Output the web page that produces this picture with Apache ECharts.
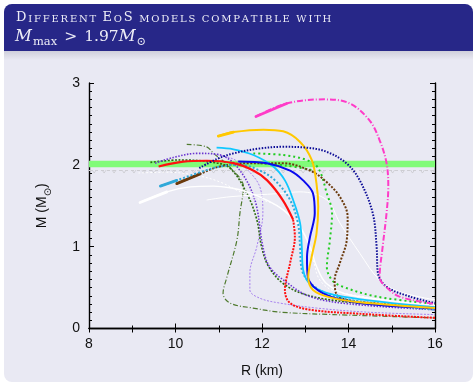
<!DOCTYPE html>
<html><head><meta charset="utf-8">
<script src="https://cdn.jsdelivr.net/npm/echarts@6/dist/echarts.min.js"></script>
<style>html,body{margin:0;padding:0;background:#fff;}#c{width:475px;height:384px;}</style>
</head><body><div id="c"></div>
<script>
// ---- text / axis / band values ----
const titleLine1 = 'Different EoS models compatible with';
const xTicks = [8, 10, 12, 14, 16];
const yTicks = [0, 1, 2, 3];
const bandLow = 1.97, bandHigh = 2.05, limitLine = 1.93;
const limitMarkR = [8.12,8.35,8.58,8.81,9.04,9.27,9.50,9.73,9.96,10.19,10.42,10.65,10.88,11.11,11.34,11.57,11.80,12.03,12.26,12.49,12.72,12.95,13.18,13.41,13.64,13.87,14.10,14.33,14.56,14.79,15.02,15.25,15.48,15.71,15.94];

// ---- EoS curves (R in km, M in Msun) ----
const magentaR = [11.86,12.57,13.45,14.03,14.49,14.72,14.88,14.92,14.88,14.79,14.72,14.95,15.18,15.65,16.0];
const magentaM = [2.59,2.75,2.80,2.75,2.54,2.30,2.02,1.73,1.41,1.00,0.63,0.47,0.39,0.33,0.30];
const navyR = [10.55,10.95,11.34,11.95,12.49,13.03,13.49,13.95,14.26,14.56,14.65,14.68,14.88,15.42,16.0];
const navyM = [1.96,2.07,2.14,2.20,2.22,2.21,2.16,2.02,1.81,1.41,1.00,0.68,0.51,0.39,0.31];
const yellowR = [10.99,11.34,12.03,12.49,12.88,13.15,13.26,13.30,13.26,13.15,13.07,13.18,13.57,14.26,16.0];
const yellowM = [2.35,2.40,2.43,2.41,2.28,2.06,1.77,1.49,1.16,0.88,0.63,0.47,0.38,0.32,0.25];
const blueR = [11.45,12.11,12.65,12.95,13.18,13.22,13.11,13.04,13.06,13.41,14.26,16.0];
const blueM = [2.04,2.02,1.93,1.81,1.65,1.41,1.12,0.87,0.63,0.43,0.31,0.25];
const cyanR = [10.95,11.34,11.80,12.26,12.53,12.72,12.88,12.92,12.95,13.18,13.87,16.0];
const cyanM = [2.21,2.19,2.12,1.98,1.81,1.57,1.29,1.00,0.72,0.51,0.39,0.26];
const redR = [9.61,10.18,10.72,11.34,11.80,12.12,12.48,12.72];
const redM = [1.98,2.04,2.05,2.02,1.93,1.81,1.57,1.33];
const redLowR = [12.72,12.76,12.65,12.53,12.65,13.11,14.26,16.0];
const redLowM = [1.33,1.12,0.80,0.47,0.31,0.23,0.18,0.13];
const skyDotR = [9.65,10.03,10.57,11.03,11.49,11.95,12.30,12.65,12.83,12.88,12.92,13.11,13.49,14.26,16.0];
const skyDotM = [1.74,1.81,1.91,1.98,2.00,1.93,1.81,1.57,1.29,1.00,0.72,0.56,0.43,0.33,0.23];
const brownR = [10.03,10.57,11.03,11.72,12.49,13.11,13.45,13.80,13.98,13.96,13.80,13.68,13.73,13.96,14.80,16.0];
const brownM = [1.77,1.89,1.98,2.02,2.02,1.93,1.81,1.61,1.36,1.08,0.80,0.59,0.41,0.35,0.30,0.25];
const greenR = [11.80,12.49,13.03,13.30,13.50,13.62,13.57,13.50,13.62,13.87,14.65,16.0];
const greenM = [2.14,2.12,2.06,1.96,1.65,1.41,1.08,0.75,0.59,0.51,0.39,0.30];
const green2R = [11.95,12.57,13.22];
const green2M = [2.02,1.99,1.93];
const white1R = [9.18,9.80,10.34,10.88,11.26,11.65,12.11,12.49,12.88,13.11,13.26,13.49,14.03,16.0];
const white1M = [1.54,1.67,1.73,1.74,1.72,1.67,1.57,1.45,1.24,1.00,0.76,0.55,0.41,0.29];
const white2R = [10.72,11.26,12.42,12.88,13.50,13.80,14.26,14.72,15.18,16.0];
const white2M = [1.57,1.61,1.65,1.67,1.57,1.29,0.92,0.59,0.45,0.35];
const whiteDotR = [9.14,9.80,10.49,11.03,11.65,12.42,12.95,13.18,13.34,13.72,16.0];
const whiteDotM = [1.90,1.91,1.87,1.79,1.63,1.48,1.17,0.84,0.59,0.45,0.28];
const purpleR = [9.53,9.95,10.50,10.96,11.26,11.49,11.72,11.88,12.02,12.18,12.58,13.11,14.03,16.0];
const purpleM = [2.02,2.09,2.14,2.13,2.06,1.93,1.73,1.48,1.00,0.75,0.56,0.39,0.30,0.23];
const dkGreenR = [9.42,10.11,10.87,11.26,11.65,11.88,11.99,12.15,12.49,13.03,14.03,16.0];
const dkGreenM = [2.03,2.06,2.03,1.96,1.65,1.33,1.00,0.76,0.55,0.41,0.32,0.24];
const oliveR = [10.26,10.72,10.88,11.26,11.57,11.49,11.42,11.19,11.10,11.26,11.79,12.42,13.65,16.0];
const oliveM = [2.25,2.22,2.14,1.97,1.73,1.41,1.08,0.63,0.43,0.31,0.25,0.20,0.17,0.13];
const lilacR = [10.88,11.34,11.68,11.95,12.02,11.88,11.72,11.72,11.95,12.42,13.26,14.42,16.0];
const lilacM = [2.13,2.07,1.93,1.73,1.41,1.00,0.68,0.47,0.37,0.31,0.25,0.20,0.17];

const curves = [
  {R: oliveR, M: oliveM, color: '#4f7a2e', width: 1.2, type: [5,2,1,2]},
  {R: lilacR, M: lilacM, color: '#a680ee', width: 1, type: [2,1.5]},
  {R: dkGreenR, M: dkGreenM, color: '#2d6a10', width: 1.6, type: [2,1.5]},
  {R: purpleR, M: purpleM, color: '#6a35d0', width: 1.6, type: [1.5,1.5]},
  {R: whiteDotR, M: whiteDotM, color: '#ffffff', width: 1, type: [2,2]},
  {R: white2R, M: white2M, color: '#ffffff', width: 1, type: 'solid'},
  {R: white1R, M: white1M, color: '#ffffff', width: 1.4, type: 'solid', thick: true},
  {R: green2R, M: green2M, color: '#22cc22', width: 2, type: [2,3]},
  {R: greenR, M: greenM, color: '#22cc22', width: 2, type: [2,3]},
  {R: brownR, M: brownM, color: '#6b3a0c', width: 2, type: [2,1.5], thick: true},
  {R: skyDotR, M: skyDotM, color: '#30a8d8', width: 2, type: [2,2], thick: true},
  {R: redLowR, M: redLowM, color: '#ff1010', width: 2, type: [2,1.2]},
  {R: redR, M: redM, color: '#ff1010', width: 2.2, type: 'solid'},
  {R: cyanR, M: cyanM, color: '#10c8ff', width: 1.8, type: 'solid'},
  {R: blueR, M: blueM, color: '#0a0aee', width: 2, type: 'solid'},
  {R: yellowR, M: yellowM, color: '#ffc800', width: 2, type: 'solid', thick: true},
  {R: navyR, M: navyM, color: '#0b0b96', width: 2, type: [1.5,1.5]},
  {R: magentaR, M: magentaM, color: '#ff3cc8', width: 2, type: [6,2,1,2], thick: true}
];

const series = [{
  type: 'line', data: [], z: 1, silent: true,
  markArea: {silent: true, itemStyle: {color: '#80fb78'}, data: [[{yAxis: bandLow}, {yAxis: bandHigh}]]},
  markLine: {silent: true, symbol: 'none', label: {show: false},
    lineStyle: {color: '#cdcdd2', type: [3,3], width: 1}, data: [{yAxis: limitLine}]}
}, {
  type: 'scatter', z: 2, silent: true,
  data: limitMarkR.map(r => [r, limitLine]),
  symbol: 'path://M0,0 L2,3 L4,0', symbolSize: [4, 3], symbolOffset: [0, 1],
  itemStyle: {color: 'rgba(0,0,0,0)', borderColor: '#c2c2c6', borderWidth: 0.8}
}];
curves.forEach((c, i) => {
  const pts = c.R.map((r, j) => [r, c.M[j]]);
  series.push({
    type: 'line', smooth: 0.35, showSymbol: false, z: 3 + i, silent: true,
    data: pts, lineStyle: {color: c.color, width: c.width, type: c.type}
  });
  if (c.thick) {
    // the first piece of the curve is drawn thicker in the source
    series.push({
      type: 'line', showSymbol: false, z: 3 + i, silent: true,
      data: pts.slice(0, 2), lineStyle: {color: c.color, width: 2.8, type: 'solid', cap: 'round'}
    });
  }
});

// small-caps title: capitals large, lower-case letters as small capitals
const smallCaps = titleLine1.split('').map(ch => {
  if (ch === ' ') return '{sp| }';
  const isUpper = ch === ch.toUpperCase();
  return (isUpper ? '{b|' : '{s|') + ch.toUpperCase() + '}';
}).join('');

const chart = echarts.init(document.getElementById('c'));
const axisLine = {show: true, lineStyle: {color: '#000', width: 1.4}};
const titleColor = '#ececf6';
const tf = {fontFamily: 'DejaVu Serif', fontWeight: 'normal', color: titleColor, lineHeight: 14, verticalAlign: 'bottom'};
chart.setOption({
  animation: false,
  backgroundColor: 'transparent',
  graphic: [
    {type: 'rect', z: -10, shape: {x: 4, y: 4, width: 469, height: 378, r: 8}, style: {fill: '#e9e9f3'}},
    {type: 'rect', z: -9, shape: {x: 4, y: 51, width: 469, height: 9},
      style: {fill: new echarts.graphic.LinearGradient(0, 0, 0, 1, [{offset: 0, color: '#cfcfdb'}, {offset: 1, color: '#e9e9f3'}])}},
    {type: 'rect', z: -8, shape: {x: 4, y: 4, width: 469, height: 47, r: [8, 8, 0, 0]}, style: {fill: '#272788'}}
  ],
  title: [{
    text: smallCaps,
    left: 16, top: 10, padding: 0,
    textStyle: {fontWeight: 'normal', rich: {
      b: Object.assign({}, tf, {fontSize: 13, padding: [0, 1.8, 0, 0]}),
      s: Object.assign({}, tf, {fontSize: 10, padding: [0, 1.8, 0, 0]}),
      sp: Object.assign({}, tf, {fontSize: 10, padding: [0, 1.4, 0, 0]})
    }}
  }, {
    text: '{m|M}{sub|max}{op|>}{n|1.97}{m|M}{sub|⊙}',
    left: 15, top: 26, padding: 0,
    textStyle: {fontWeight: 'normal', rich: {
      m: Object.assign({}, tf, {fontStyle: 'italic', fontSize: 16.5, lineHeight: 19}),
      n: Object.assign({}, tf, {fontSize: 15.5, lineHeight: 19}),
      op: Object.assign({}, tf, {fontSize: 15.5, lineHeight: 19, padding: [0, 7, 0, 7]}),
      sub: Object.assign({}, tf, {fontSize: 11.5, lineHeight: 12, padding: [0, 0, -3, 1]})
    }}
  }],
  grid: {left: 89, right: 40, top: 83, bottom: 55.5, containLabel: false},
  xAxis: [{
    type: 'value', min: xTicks[0], max: xTicks[xTicks.length - 1], interval: 2, position: 'bottom',
    axisLine: axisLine, splitLine: {show: false},
    axisTick: {inside: true, length: 5, lineStyle: {color: '#000', width: 1}},
    minorTick: {show: true, splitNumber: 2, length: 3, lineStyle: {color: '#000', width: 1}},
    axisLabel: {color: '#111', fontFamily: 'Liberation Sans', fontSize: 14, margin: 9},
    name: 'R (km)', nameLocation: 'middle', nameGap: 36,
    nameTextStyle: {color: '#111', fontFamily: 'Liberation Sans', fontSize: 14}
  }, {
    type: 'value', min: 8, max: 16, interval: 1, position: 'top',
    axisLine: axisLine, splitLine: {show: false},
    axisTick: {inside: true, length: 4, lineStyle: {color: '#000', width: 1}},
    axisLabel: {show: false}
  }],
  yAxis: [{
    type: 'value', min: yTicks[0], max: yTicks[yTicks.length - 1], interval: 1, position: 'left',
    axisLine: axisLine, splitLine: {show: false},
    axisTick: {inside: true, length: 5, lineStyle: {color: '#000', width: 1}},
    minorTick: {show: true, splitNumber: 10, length: 3, lineStyle: {color: '#000', width: 1}},
    axisLabel: {color: '#111', fontFamily: 'Liberation Sans', fontSize: 14, margin: 9},
    name: '{n|M (M}{s|⊙}{n|)}', nameLocation: 'middle', nameGap: 40, nameRotate: 90,
    nameTextStyle: {rich: {
      n: {color: '#111', fontFamily: 'Liberation Sans', fontSize: 14},
      s: {color: '#111', fontFamily: 'DejaVu Sans', fontSize: 10, verticalAlign: 'bottom', padding: [0, 0, -4, 0]}
    }}
  }, {
    type: 'value', min: 0, max: 3, interval: 1, position: 'right',
    axisLine: axisLine, splitLine: {show: false},
    axisTick: {inside: true, length: 5, lineStyle: {color: '#000', width: 1}},
    minorTick: {show: true, splitNumber: 10, length: 3, lineStyle: {color: '#000', width: 1}},
    axisLabel: {show: false}
  }],
  series: series
});
</script></body></html>
